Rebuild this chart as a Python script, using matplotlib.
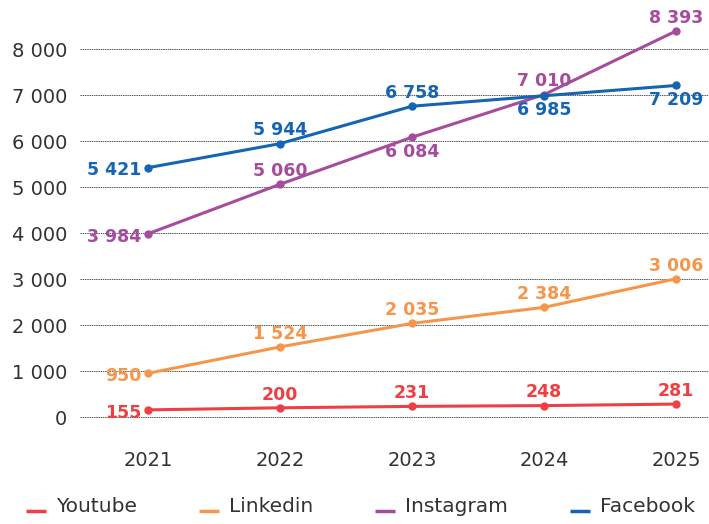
import matplotlib.pyplot as plt
import numpy as np

plt.rcParams['font.family'] = ['DejaVu Sans']

years = [2021, 2022, 2023, 2024, 2025]
youtube = [155, 200, 231, 248, 281]
linkedin = [950, 1524, 2035, 2384, 3006]
instagram = [3984, 5060, 6084, 7010, 8393]
facebook = [5421, 5944, 6758, 6985, 7209]

series_names = ['Youtube', 'Linkedin', 'Instagram', 'Facebook']
colors = ['#EE4043', '#F6964A', '#A64C9C', '#1565B2']

# where each value label sits relative to its point
youtube_pos = ['left', 'above', 'above', 'above', 'above']
linkedin_pos = ['left', 'above', 'above', 'above', 'above']
instagram_pos = ['left', 'above', 'below', 'above', 'above']
facebook_pos = ['left', 'above', 'above', 'below', 'below']


def fmt(v):
    return f"{v:,.0f}".replace(',', ' ')


fig = plt.figure(figsize=(7.09, 5.24), dpi=100)
ax = fig.add_axes([80/709, 84/524, 629/709, 430/524])

all_series = [youtube, linkedin, instagram, facebook]
all_pos = [youtube_pos, linkedin_pos, instagram_pos, facebook_pos]
lines = []
for vals, pos, name, c in zip(all_series, all_pos, series_names, colors):
    ln, = ax.plot(years, vals, color=c, lw=2.2, marker='o', ms=5,
                  label=name, zorder=3, solid_capstyle='butt')
    lines.append(ln)
    for x, v, p in zip(years, vals, pos):
        if p == 'left':
            off, ha, va = (-4.5, -2), 'right', 'center'
        elif p == 'above':
            off, ha, va = (0, 3), 'center', 'bottom'
        else:
            off, ha, va = (0, -4), 'center', 'top'
        ax.annotate(fmt(v), (x, v), xytext=off, textcoords='offset points',
                    ha=ha, va=va, color=c, fontsize=12.5, fontweight='bold',
                    zorder=4)

ax.set_xlim(2020.485, 2025.25)
ax.set_ylim(-500, 8850)
ax.set_xticks(years)
ax.set_yticks(np.arange(0, 8001, 1000))
ax.set_yticklabels([fmt(v) for v in np.arange(0, 8001, 1000)])
ax.tick_params(axis='both', length=0, labelsize=14, colors='#333333')
ax.tick_params(axis='x', pad=8)
ax.tick_params(axis='y', pad=9)
ax.grid(axis='y', color='#555555', lw=0.7, ls=(0, (1.5, 0.8)))
ax.set_axisbelow(True)
for s in ax.spines.values():
    s.set_visible(False)

leg = fig.legend(handles=lines, labels=series_names, loc='lower left',
                 bbox_to_anchor=(12/709, -0.012, 697/709, 0.06), mode='expand',
                 ncol=4, frameon=False, fontsize=14.5, handlelength=1.0,
                 handletextpad=0.5, borderaxespad=0.3, labelcolor='#333333')
for h in leg.legend_handles:
    h.set_marker('')
    h.set_linewidth(2.5)
    # sit the swatch on the text baseline, as in the reference
    h.set_ydata(np.asarray(h.get_ydata()) - 4)

fig.savefig('out.png', dpi=100)
